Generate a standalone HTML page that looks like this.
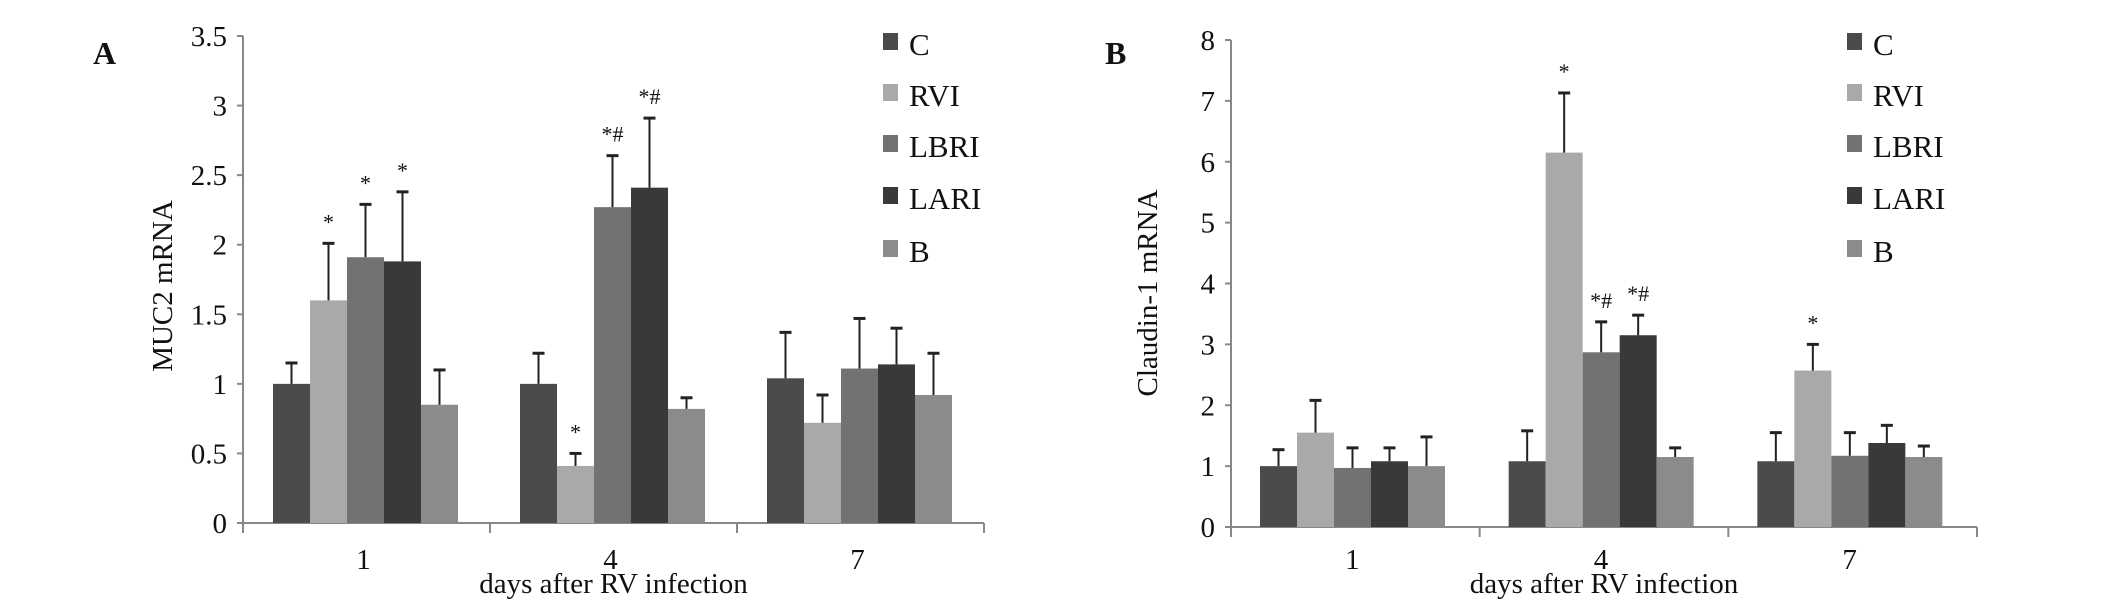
<!DOCTYPE html>
<html><head><meta charset="utf-8"><style>
body{margin:0;background:#fff}
svg{display:block}
text{font-family:"Liberation Serif",serif;fill:#111}
</style></head><body>
<svg id="chart" width="2126" height="599" viewBox="0 0 2126 599"></svg>
<script>
const categories = ["1","4","7"];
const seriesNames = ["C","RVI","LBRI","LARI","B"];
const colors = ["#4b4b4b","#a9a9a9","#727272","#393939","#8b8b8b"];
// Panel A: MUC2 mRNA
const aTicks = ["0","0.5","1","1.5","2","2.5","3","3.5"];
const aC = [1.0,1.0,1.04];      const aCErr = [1.15,1.22,1.37];
const aRVI = [1.6,0.41,0.72];   const aRVIErr = [2.01,0.5,0.92];
const aLBRI = [1.91,2.27,1.11]; const aLBRIErr = [2.29,2.64,1.47];
const aLARI = [1.88,2.41,1.14]; const aLARIErr = [2.38,2.91,1.40];
const aB = [0.85,0.82,0.92];    const aBErr = [1.10,0.90,1.22];
const aMarks = [["","*","*","*",""],["","*","*#","*#",""],["","","","",""]];
// Panel B: Claudin-1 mRNA
const bTicks = ["0","1","2","3","4","5","6","7","8"];
const bC = [1.0,1.08,1.08];     const bCErr = [1.27,1.58,1.55];
const bRVI = [1.55,6.15,2.57];  const bRVIErr = [2.08,7.13,3.0];
const bLBRI = [0.97,2.87,1.17]; const bLBRIErr = [1.30,3.37,1.55];
const bLARI = [1.08,3.15,1.38]; const bLARIErr = [1.30,3.48,1.67];
const bB = [1.0,1.15,1.15];     const bBErr = [1.48,1.30,1.33];
const bMarks = [["","","","",""],["","*","*#","*#",""],["","*","","",""]];

const svg = document.getElementById('chart');
const NS = "http://www.w3.org/2000/svg";
function mk(tag, attrs, parent){const e=document.createElementNS(NS,tag);for(const k in attrs)e.setAttribute(k,attrs[k]);(parent||svg).appendChild(e);return e;}

function panel(cfg){
  const g = mk('g',{});
  
  
  const ymax = parseFloat(cfg.ticks[cfg.ticks.length-1]);
  const y = v => cfg.y0 - (v/ymax)*(cfg.y0-cfg.yTop);
  const gw = (cfg.x1-cfg.x0)/categories.length;
  const bw = 37;
  // axes
  const ya = mk('line',{x1:cfg.x0,y1:cfg.yTop,x2:cfg.x0,y2:cfg.y0+10,stroke:'#888','stroke-width':2},g);
   
  const xa = mk('line',{x1:cfg.x0-6,y1:cfg.y0,x2:cfg.x1,y2:cfg.y0,stroke:'#888','stroke-width':2},g);
   
  cfg.ticks.forEach(t=>{
    const v=parseFloat(t);
    mk('line',{x1:cfg.x0-6,y1:y(v),x2:cfg.x0,y2:y(v),stroke:'#888','stroke-width':2},g);
    const tx = mk('text',{x:cfg.x0-16,y:y(v)+10,'font-size':29,'text-anchor':'end'},g);
    tx.textContent=t;
     
  });
  for(let i=0;i<=categories.length;i++){
    mk('line',{x1:cfg.x0+gw*i,y1:cfg.y0,x2:cfg.x0+gw*i,y2:cfg.y0+10,stroke:'#888','stroke-width':2},g);
  }
  categories.forEach((c,i)=>{
    const tx = mk('text',{x:cfg.x0+gw*i+gw/2-3,y:569,'font-size':29,'text-anchor':'middle'},g);
    tx.textContent=c;
     
    cfg.series.forEach((s,k)=>{
      const bx = cfg.x0+gw*i+cfg.pad+k*bw;
      const top = y(s[i]);
      const r = mk('rect',{x:bx,y:top,width:bw,height:cfg.y0-top,fill:colors[k]},g);
      
      
      const cx = bx+bw/2, et=y(cfg.errs[k][i]);
      const el = mk('line',{x1:cx,y1:top,x2:cx,y2:et,stroke:'#222','stroke-width':2},g);
       
      mk('line',{x1:cx-6,y1:et,x2:cx+6,y2:et,stroke:'#222','stroke-width':3},g);
      const m = cfg.marks[i][k];
      if(m){
        const at = mk('text',{x:cx,y:et-14,'font-size':22,'text-anchor':'middle'},g);
        at.textContent=m;
         
      }
    });
  });
  // legend
  seriesNames.forEach((n,k)=>{
    const ly = cfg.legY[k];
    const sq = mk('rect',{x:cfg.legX,y:ly-12,width:15,height:17,fill:colors[k]},g);
     
    const lt = mk('text',{x:cfg.legX+26,y:ly+10,'font-size':31},g);
    lt.textContent=n;
     
  });
  const yt = mk('text',{x:0,y:0,'font-size':29,'text-anchor':'middle',transform:`translate(${cfg.ytX},${cfg.ytY}) rotate(-90)`},g);
  yt.textContent=cfg.ytitle;
   
  const xt = mk('text',{x:(cfg.x0+cfg.x1)/2,y:593,'font-size':29,'text-anchor':'middle'},g);
  xt.textContent='days after RV infection';
   
  const pl = mk('text',{x:cfg.lblX,y:64,'font-size':32,'font-weight':'bold'},g);
  pl.textContent=cfg.label;
   
}

panel({name:'panel-a-muc2', x0:243, x1:984, y0:523, yTop:36, pad:30, ticks:aTicks,
  series:[aC,aRVI,aLBRI,aLARI,aB], errs:[aCErr,aRVIErr,aLBRIErr,aLARIErr,aBErr], marks:aMarks,
  legX:883, legY:[45,96,147,199,252], ytitle:'MUC2 mRNA', ytX:172, ytY:286, lblX:93, label:'A'});
panel({name:'panel-b-claudin1', x0:1231, x1:1977, y0:527, yTop:40, pad:29, ticks:bTicks,
  series:[bC,bRVI,bLBRI,bLARI,bB], errs:[bCErr,bRVIErr,bLBRIErr,bLARIErr,bBErr], marks:bMarks,
  legX:1847, legY:[45,96,147,199,252], ytitle:'Claudin-1 mRNA', ytX:1157, ytY:293, lblX:1105, label:'B'});
</script>
</body></html>
